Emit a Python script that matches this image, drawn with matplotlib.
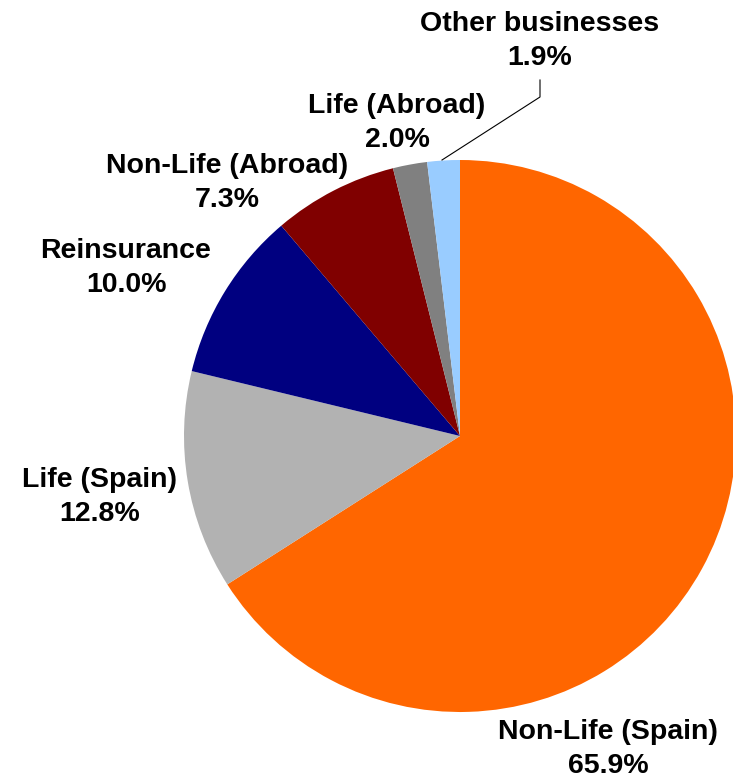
import matplotlib.pyplot as plt

categories = ['Non-Life (Spain)', 'Life (Spain)', 'Reinsurance',
              'Non-Life (Abroad)', 'Life (Abroad)', 'Other businesses']
shares = [65.9, 12.8, 10.0, 7.3, 2.0, 1.9]
colors = ['#FF6600', '#B2B2B2', '#000080', '#800000', '#808080', '#99CCFF']

# label centres in pixels (x, y from top)
label_pos = [(608, 749), (100, 497), (126, 268), (227, 183), (397, 123), (540, 41)]

W, H = 733, 779
fig = plt.figure(figsize=(W / 100, H / 100), dpi=100)
cx, cy, r = 460, 436, 276
ax = fig.add_axes([(cx - r) / W, (H - cy - r) / H, 2 * r / W, 2 * r / H])
ax.pie(shares, colors=colors, startangle=90, counterclock=False,
       wedgeprops=dict(linewidth=0))
ax.set_xlim(-1, 1)
ax.set_ylim(-1, 1)
ax.set_aspect('equal')
ax.axis('off')

for name, val, (x, y) in zip(categories, shares, label_pos):
    fig.text(x / W, 1 - y / H, f'{name}\n{val:.1f}%', ha='center', va='center',
             fontsize=20.5, fontweight='bold', family='Liberation Sans',
             linespacing=1.42)

# leader line for the small slice
fig.add_artist(plt.Line2D([442 / W, 540 / W, 540 / W],
                          [1 - 160 / H, 1 - 97 / H, 1 - 80 / H],
                          color='black', linewidth=0.8))

fig.savefig('out.png', dpi=100)
